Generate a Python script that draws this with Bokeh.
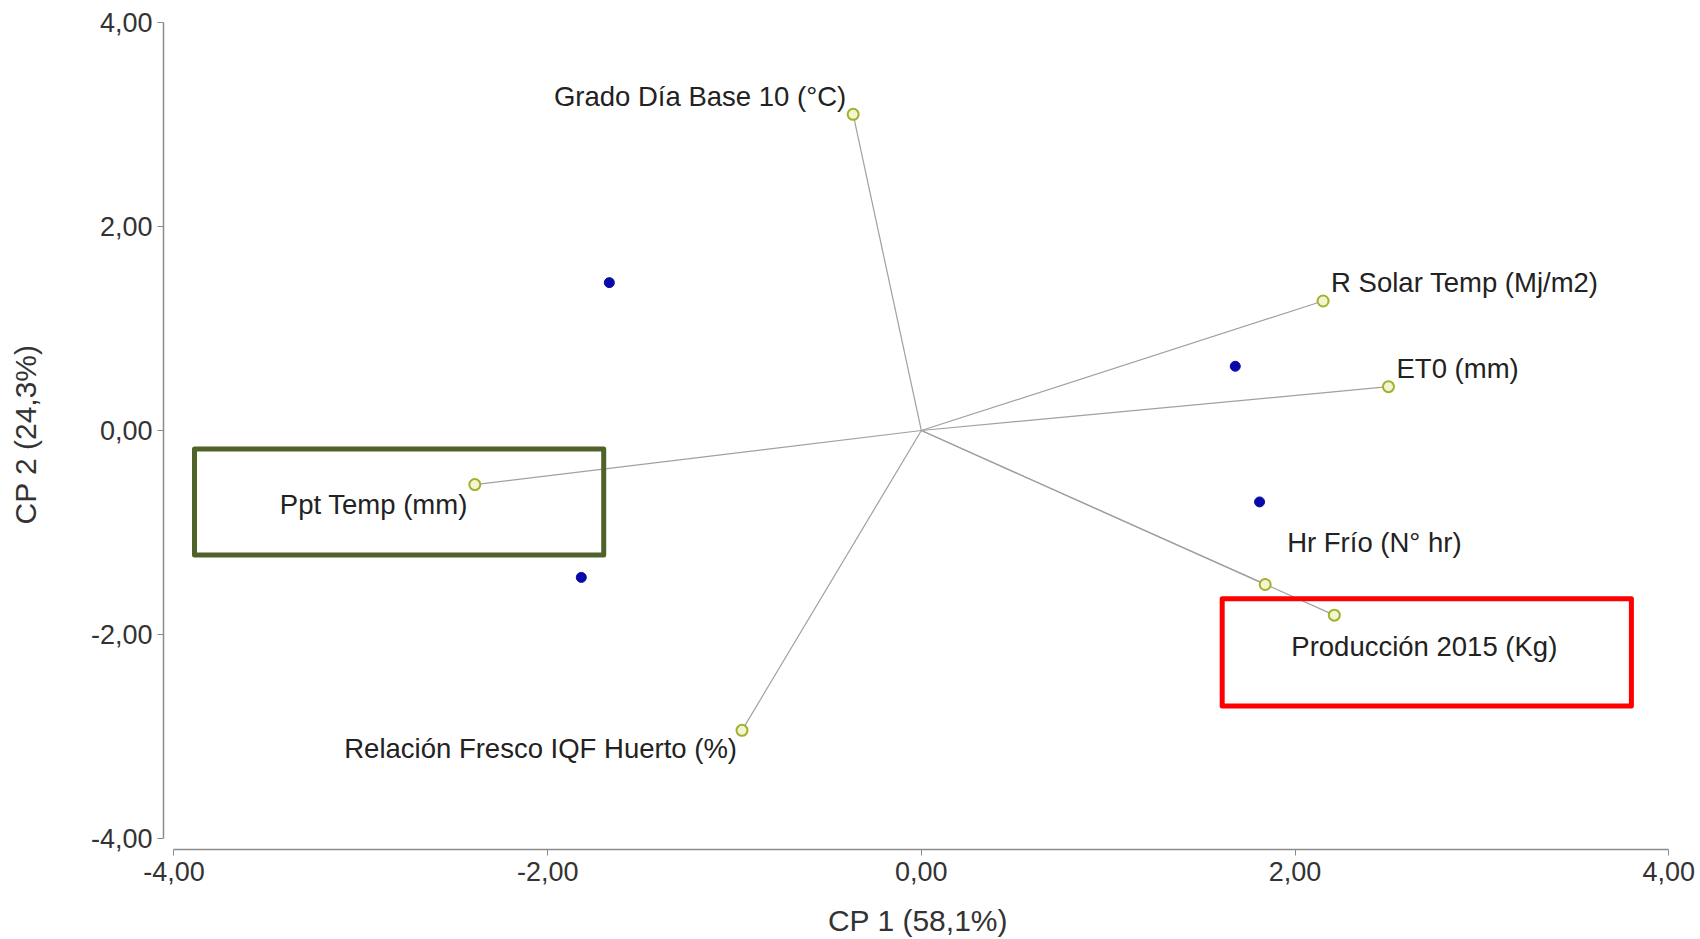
from bokeh.plotting import figure
from bokeh.models import Range1d, FixedTicker, CustomJSTickFormatter, ColumnDataSource
from bokeh.core.properties import value
from bokeh.embed import file_html
from bokeh.resources import INLINE

# ---- data ----
var_names = ["Grado Día Base 10 (°C)", "R Solar Temp (Mj/m2)", "ET0 (mm)",
             "Ppt Temp (mm)", "Hr Frío (N° hr)", "Producción 2015 (Kg)",
             "Relación Fresco IQF Huerto (%)"]
load_x = [-0.365, 2.15, 2.50, -2.39, 1.84, 2.21, -0.96]
load_y = [3.10, 1.27, 0.43, -0.53, -1.51, -1.81, -2.94]

obs_x = [-1.67, 1.68, 1.81, -1.82]
obs_y = [1.45, 0.63, -0.70, -1.44]

ticks = [-4, -2, 0, 2, 4]

# highlight boxes (data units)
box_left = [-3.89, 1.61]
box_right = [-1.70, 3.80]
box_top = [-0.18, -1.65]
box_bottom = [-1.22, -2.70]
box_colors = ["#4f6228", "#ff0000"]

# label styling (screen offsets)
lab_align = ["right", "left", "left", "right", "left", "left", "right"]
lab_dx = [-7, 8, 8, -7, 22, -43, -5]
lab_dy = [-18, -18, -18, 20, -42, 31, 18]

FONT = "Liberation Sans"

p = figure(width=1700, height=939,
           min_border_left=163, min_border_top=19, min_border_right=28, min_border_bottom=88,
           x_range=Range1d(-4.056, 4.02), y_range=Range1d(-4.108, 4.03),
           output_backend="svg", toolbar_location=None)
p.outline_line_color = None
p.grid.visible = False
p.background_fill_color = "white"

fmt = CustomJSTickFormatter(code="return tick.toFixed(2).replace('.', ',');")
for ax in (p.xaxis[0], p.yaxis[0]):
    ax.ticker = FixedTicker(ticks=ticks)
    ax.formatter = fmt
    ax.bounds = (-4, 4)
    ax.axis_line_color = "#8c8c8c"
    ax.axis_line_width = 1.5
    ax.major_tick_line_color = "#8c8c8c"
    ax.major_tick_out = 6
    ax.major_tick_in = 0
    ax.minor_tick_line_color = None
    ax.major_label_text_font = FONT
    ax.major_label_text_font_size = "27px"
    ax.major_label_text_color = "#333333"
    ax.axis_label_text_font = FONT
    ax.axis_label_text_font_size = "30px"
    ax.axis_label_text_font_style = "normal"
    ax.axis_label_text_color = "#333333"

p.xaxis.axis_label = "CP 1 (58,1%)"
p.yaxis.axis_label = "CP 2 (24,3%)"
p.xaxis.axis_label_standoff = 20
p.xaxis.major_label_standoff = 6
p.yaxis.axis_label_standoff = 46

# vectors from origin
p.segment(x0=[0] * len(load_x), y0=[0] * len(load_y), x1=load_x, y1=load_y,
          line_color="#a0a0a0", line_width=1.2)

# highlight boxes
p.quad(left=box_left, right=box_right, top=box_top, bottom=box_bottom,
       fill_color=None, line_color=box_colors, line_width=5, line_join="round")

# observations
p.scatter(obs_x, obs_y, size=10, fill_color="#0a0aa8", line_color="#0a0aa8", marker="circle")

# loadings markers
p.scatter(load_x, load_y, size=11, fill_color="#f2f5cf", line_color="#a3b02c",
          line_width=2, marker="circle")

src = ColumnDataSource(dict(x=load_x, y=load_y, t=var_names, a=lab_align, dx=lab_dx, dy=lab_dy))
p.text(x="x", y="y", text="t", source=src, text_align="a", text_baseline="middle",
       x_offset="dx", y_offset="dy", text_font=value(FONT), text_font_size="27.5px",
       text_color="#222222")

open("out.html", "w").write(file_html(p, INLINE))
